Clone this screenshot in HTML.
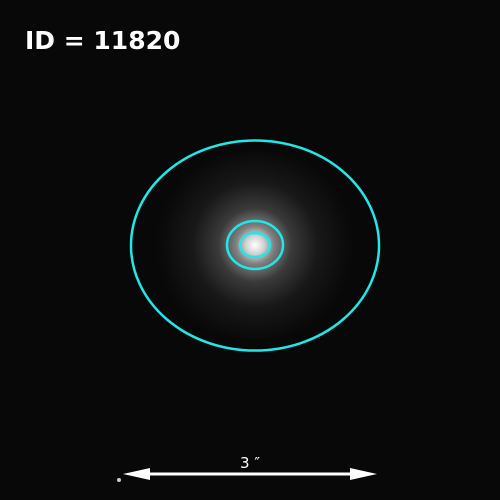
<!DOCTYPE html>
<html><head><meta charset="utf-8"><style>
html,body{margin:0;padding:0;background:#000;}
svg{display:block;}
</style></head><body>
<svg width="500" height="500" viewBox="0 0 500 500">
<defs>
<radialGradient id="glow" cx="255" cy="245" r="105" gradientUnits="userSpaceOnUse">
<stop offset="0" stop-color="#ffffff"/>
<stop offset="0.09" stop-color="#d0d0d0"/>
<stop offset="0.18" stop-color="#808080"/>
<stop offset="0.35" stop-color="#3a3a3a"/>
<stop offset="0.6" stop-color="#181818"/>
<stop offset="0.85" stop-color="#0c0c0c"/>
<stop offset="1" stop-color="#080808" stop-opacity="0"/>
</radialGradient>
</defs>
<rect width="500" height="500" fill="#080808"/>
<ellipse cx="255" cy="245" rx="105" ry="94" fill="url(#glow)"/>
<g id="ellipses" fill="none" stroke="#1ee8e8" stroke-width="2.5"></g>
<text x="25" y="49" font-family="DejaVu Sans, Liberation Sans, sans-serif" font-weight="bold" font-size="25" fill="#fff">ID = 11820</text>
<line x1="140" y1="474" x2="360" y2="474" stroke="#fff" stroke-width="3"/>
<polygon points="123,474 150,468 150,480" fill="#fff"/>
<polygon points="377,474 350,468 350,480" fill="#fff"/>
<text x="250" y="468" text-anchor="middle" font-family="DejaVu Sans, Liberation Sans, sans-serif" font-size="15" fill="#fff">3 ″</text>
<circle cx="119" cy="480" r="2" fill="#ccc"/>
</svg>
<script>
const cxs=[255,255,255];
const cys=[245.5,245,245];
const rxs=[124,28,15];
const rys=[105,24,12];
const g=document.getElementById('ellipses');
for(let i=0;i<cxs.length;i++){
  const e=document.createElementNS('http://www.w3.org/2000/svg','ellipse');
  e.setAttribute('cx',cxs[i]);e.setAttribute('cy',cys[i]);
  e.setAttribute('rx',rxs[i]);e.setAttribute('ry',rys[i]);
  
  
  g.appendChild(e);
}
</script>
</body></html>
